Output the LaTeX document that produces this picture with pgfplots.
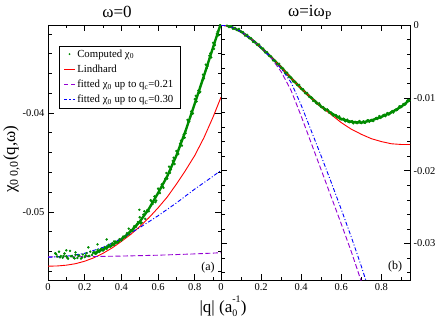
\documentclass[border=0pt]{standalone}
\usepackage{fontspec}
\setmainfont{Liberation Serif}
\usepackage{pgfplots}
\pgfplotsset{compat=1.18}
\definecolor{ggreen}{RGB}{0,139,0}
\definecolor{gviolet}{RGB}{148,0,211}
\pgfplotsset{
  myaxis/.style={
    scale only axis, anchor=south west, height=255pt,
    xmin=0, xmax=0.943,
    xtick={0,0.2,0.4,0.6,0.8}, minor xtick={0.1,0.3,0.5,0.7,0.9},
    tick align=inside,
    major tick length=6pt, minor tick length=3.5pt,
    every tick/.style={black, line width=0.6pt},
    axis line style={line width=0.8pt},
    tick label style={font=\fontsize{10.5}{12}\selectfont},
    /pgf/number format/assume math mode=true,
    scaled ticks=false,
    xticklabel style={/pgf/number format/fixed, /pgf/number format/precision=1},
    yticklabel style={/pgf/number format/fixed, /pgf/number format/precision=2},
  },
  greenpts/.style={only marks, mark=*, mark size=1pt, mark options={draw=ggreen, fill=ggreen}, color=ggreen,
    legend image code/.code={\pgfsetfillcolor{ggreen}\pgfpathcircle{\pgfpoint{0.18cm}{0cm}}{1pt}\pgfusepath{fill}}},
  greenband/.style={draw=ggreen, line width=2.4pt, no marks, forget plot},
  redl/.style={color=red, draw=red, line width=0.9pt, no marks,
    legend image code/.code={\pgfsetstrokecolor{red}\pgfsetlinewidth{1.1pt}\pgfsetdash{}{0pt}%
      \pgfpathmoveto{\pgfpointorigin}\pgfpathlineto{\pgfpoint{0.36cm}{0cm}}\pgfusepath{stroke}}},
  violetl/.style={color=gviolet, draw=gviolet, line width=0.9pt, no marks, dash pattern=on 5pt off 2.5pt,
    legend image code/.code={\pgfsetstrokecolor{gviolet}\pgfsetlinewidth{1.1pt}\pgfsetdash{{4pt}{2.5pt}}{0pt}%
      \pgfpathmoveto{\pgfpointorigin}\pgfpathlineto{\pgfpoint{0.36cm}{0cm}}\pgfusepath{stroke}}},
  bluel/.style={color=blue, draw=blue, line width=0.9pt, no marks, dash pattern=on 4pt off 2pt on 1pt off 2pt,
    legend image code/.code={\pgfsetstrokecolor{blue}\pgfsetlinewidth{1.1pt}\pgfsetdash{{3pt}{2pt}{1.2pt}{2pt}}{0pt}%
      \pgfpathmoveto{\pgfpointorigin}\pgfpathlineto{\pgfpoint{0.36cm}{0cm}}\pgfusepath{stroke}}},
}
\begin{document}
\begin{tikzpicture}[x=1pt,y=1pt]
\path[use as bounding box] (0,0) rectangle (436,322);

% ---------------- left panel: omega = 0
\begin{axis}[myaxis, at={(48pt,42pt)}, width=173pt,
  ymin=-0.0569, ymax=-0.0311,
  ytick={-0.05,-0.04},
  minor ytick={-0.056,-0.054,-0.052,-0.048,-0.046,-0.044,-0.042,-0.038,-0.036,-0.034,-0.032},
  yticklabel pos=left,
  legend style={at={(0.062,0.918)}, anchor=north west, fill=white, draw=black,
    font=\fontsize{10.8}{12}\selectfont, inner xsep=5pt, inner ysep=1.5pt, row sep=2.2pt},
  legend cell align=left,
]
\addplot[greenband] coordinates {
(0.25,-0.05421) (0.30,-0.05380) (0.35,-0.05335) (0.40,-0.05280) (0.45,-0.05200)
(0.50,-0.05100) (0.55,-0.04970) (0.60,-0.04810) (0.65,-0.04640) (0.70,-0.04430)
(0.75,-0.04180) (0.80,-0.03905) (0.85,-0.03625) (0.90,-0.03335) (0.943,-0.03090)
};
\addplot[greenpts] coordinates {
(0.04,-0.05420) (0.05,-0.05452) (0.06,-0.05404) (0.07,-0.05447) (0.08,-0.05464)
(0.09,-0.05422) (0.10,-0.05449) (0.11,-0.05475) (0.12,-0.05396) (0.13,-0.05448)
(0.14,-0.05464) (0.15,-0.05435) (0.16,-0.05468) (0.17,-0.05441) (0.18,-0.05474)
(0.19,-0.05432) (0.20,-0.05458) (0.21,-0.05419) (0.22,-0.05448) (0.23,-0.05403)
(0.24,-0.05437) (0.25,-0.05406) (0.26,-0.05425) (0.27,-0.05385) (0.28,-0.05406)
(0.29,-0.05373) (0.30,-0.05392) (0.31,-0.05356) (0.32,-0.05374) (0.33,-0.05335)
(0.34,-0.05352) (0.35,-0.05320) (0.36,-0.05334) (0.37,-0.05300) (0.38,-0.05312)
(0.39,-0.05276) (0.40,-0.05290) (0.41,-0.05250) (0.42,-0.05258) (0.43,-0.05216)
(0.44,-0.05228) (0.45,-0.05186) (0.46,-0.05192) (0.47,-0.05146) (0.48,-0.05152)
(0.49,-0.05104) (0.50,-0.05055) (0.51,-0.05109) (0.52,-0.05028) (0.53,-0.05072)
(0.54,-0.04986) (0.55,-0.04995) (0.56,-0.04883) (0.57,-0.04921) (0.58,-0.04844)
(0.59,-0.04887) (0.60,-0.04765) (0.61,-0.04811) (0.62,-0.04722) (0.63,-0.04758)
(0.64,-0.04664) (0.65,-0.04665) (0.66,-0.04543) (0.67,-0.04571) (0.68,-0.04484)
(0.69,-0.04517) (0.70,-0.04385) (0.71,-0.04415) (0.72,-0.04310) (0.73,-0.04330)
(0.74,-0.04220) (0.75,-0.04205) (0.76,-0.04070) (0.77,-0.04085) (0.78,-0.03985)
(0.79,-0.04005) (0.80,-0.03860) (0.81,-0.03884) (0.82,-0.03773) (0.83,-0.03787)
(0.84,-0.03671) (0.85,-0.03650) (0.86,-0.03512) (0.87,-0.03524) (0.88,-0.03421)
(0.89,-0.03438) (0.90,-0.03290) (0.91,-0.03313) (0.92,-0.03201) (0.93,-0.03214)
(0.94,-0.03097)
(0.045,-0.05431) (0.065,-0.05461) (0.085,-0.05446) (0.105,-0.05465) (0.125,-0.05449)
(0.145,-0.05472) (0.165,-0.05447) (0.185,-0.05465) (0.205,-0.05441) (0.225,-0.05446)
(0.245,-0.05416) (0.265,-0.05417) (0.285,-0.05386) (0.305,-0.05384) (0.325,-0.05352)
(0.345,-0.05346) (0.365,-0.05314) (0.385,-0.05303) (0.405,-0.05267) (0.425,-0.05246)
(0.445,-0.05203) (0.465,-0.05176) (0.485,-0.05124) (0.505,-0.05117) (0.525,-0.04995)
(0.545,-0.04993) (0.565,-0.04897) (0.585,-0.04903) (0.605,-0.04778) (0.625,-0.04745)
(0.645,-0.04607) (0.665,-0.04607) (0.685,-0.04453) (0.705,-0.04415) (0.725,-0.04280)
(0.745,-0.04250) (0.765,-0.04083) (0.785,-0.04008) (0.805,-0.03827) (0.825,-0.03795)
(0.845,-0.03613) (0.865,-0.03548) (0.885,-0.03397) (0.905,-0.03352) (0.925,-0.03178)
(0.04,-0.05420) (0.10,-0.05390) (0.22,-0.05360) (0.32,-0.05280) (0.498,-0.04980)
(0.27,-0.05330) (0.36,-0.05300) (0.44,-0.05170) (0.15,-0.05410)
};
\addlegendentry{Computed χ\textsubscript{0}}
\addplot[redl] coordinates {
(0,-0.05550) (0.05,-0.05548) (0.10,-0.05540) (0.15,-0.05525) (0.20,-0.05500)
(0.25,-0.05465) (0.30,-0.05420) (0.35,-0.05365) (0.40,-0.05300) (0.45,-0.05230)
(0.50,-0.05150) (0.55,-0.05060) (0.60,-0.04960) (0.65,-0.04850) (0.70,-0.04720)
(0.75,-0.04580) (0.80,-0.04430) (0.85,-0.04250) (0.90,-0.04040) (0.943,-0.03840)
};
\addlegendentry{Lindhard}
\addplot[violetl] coordinates {
(0,-0.05456) (0.2,-0.05454) (0.4,-0.05448) (0.6,-0.05439) (0.8,-0.05426) (0.943,-0.05414)
};
\addlegendentry{fitted χ\textsubscript{0} up to q\textsubscript{c}=0.21}
\addplot[bluel] coordinates {
(0,-0.05460) (0.1,-0.05450) (0.2,-0.05420) (0.3,-0.05360) (0.4,-0.05270)
(0.5,-0.05160) (0.6,-0.05040) (0.7,-0.04910) (0.8,-0.04770) (0.9,-0.04640) (0.943,-0.04580)
};
\addlegendentry{fitted χ\textsubscript{0} up to q\textsubscript{c}=0.30}
\node[font=\fontsize{12}{14}\selectfont] at (rel axis cs:0.925,0.049) {(a)};
\end{axis}

% ---------------- right panel: omega = i omega_P
\begin{axis}[myaxis, at={(221pt,42pt)}, width=189pt,
  ymin=-0.035, ymax=0,
  ytick={-0.03,-0.02,-0.01,0},
  minor ytick={-0.034,-0.032,-0.028,-0.026,-0.024,-0.022,-0.018,-0.016,-0.014,-0.012,-0.008,-0.006,-0.004,-0.002},
  yticklabel pos=right,
]
\addplot[greenband] coordinates {
(0.03,-0.00009) (0.05,-0.00025) (0.10,-0.00090) (0.15,-0.00190) (0.20,-0.00310)
(0.25,-0.00440) (0.30,-0.00580) (0.35,-0.00730) (0.40,-0.00870) (0.45,-0.01000)
(0.50,-0.01120) (0.55,-0.01210) (0.60,-0.01290) (0.65,-0.01330) (0.70,-0.01340)
(0.75,-0.01310) (0.80,-0.01260) (0.85,-0.01200) (0.90,-0.01120) (0.943,-0.01025)
};
\addplot[greenpts] coordinates {
(0.03,-0.00009) (0.04,-0.00028) (0.05,-0.00017) (0.06,-0.00053) (0.07,-0.00041)
(0.08,-0.00069) (0.09,-0.00054) (0.10,-0.00096) (0.11,-0.00098) (0.12,-0.00145)
(0.13,-0.00135) (0.14,-0.00182) (0.15,-0.00182) (0.16,-0.00232) (0.17,-0.00233)
(0.18,-0.00272) (0.19,-0.00266) (0.20,-0.00316) (0.21,-0.00324) (0.22,-0.00377)
(0.23,-0.00373) (0.24,-0.00426) (0.25,-0.00432) (0.26,-0.00486) (0.27,-0.00491)
(0.28,-0.00534) (0.29,-0.00532) (0.30,-0.00586) (0.31,-0.00598) (0.32,-0.00655)
(0.33,-0.00655) (0.34,-0.00712) (0.35,-0.00722) (0.36,-0.00776) (0.37,-0.00781)
(0.38,-0.00824) (0.39,-0.00822) (0.40,-0.00876) (0.41,-0.00884) (0.42,-0.00937)
(0.43,-0.00933) (0.44,-0.00986) (0.45,-0.00992) (0.46,-0.01042) (0.47,-0.01043)
(0.48,-0.01082) (0.49,-0.01076) (0.50,-0.01126) (0.51,-0.01126) (0.52,-0.01171)
(0.53,-0.01159) (0.54,-0.01204) (0.55,-0.01202) (0.56,-0.01244) (0.57,-0.01237)
(0.58,-0.01268) (0.59,-0.01254) (0.60,-0.01296) (0.61,-0.01286) (0.62,-0.01321)
(0.63,-0.01299) (0.64,-0.01334) (0.65,-0.01322) (0.66,-0.01350) (0.67,-0.01329)
(0.68,-0.01346) (0.69,-0.01318) (0.70,-0.01346) (0.71,-0.01322) (0.72,-0.01343)
(0.73,-0.01307) (0.74,-0.01328) (0.75,-0.01302) (0.76,-0.01318) (0.77,-0.01285)
(0.78,-0.01290) (0.79,-0.01250) (0.80,-0.01266) (0.81,-0.01236) (0.82,-0.01251)
(0.83,-0.01209) (0.84,-0.01224) (0.85,-0.01192) (0.86,-0.01202) (0.87,-0.01163)
(0.88,-0.01162) (0.89,-0.01116) (0.90,-0.01126) (0.91,-0.01085) (0.92,-0.01089)
(0.93,-0.01036) (0.94,-0.01040)
(0.455,-0.01002) (0.475,-0.01070) (0.495,-0.01098) (0.515,-0.01157) (0.535,-0.01173)
(0.555,-0.01228) (0.575,-0.01240) (0.595,-0.01292) (0.615,-0.01292) (0.635,-0.01328)
(0.655,-0.01321) (0.675,-0.01345) (0.695,-0.01329) (0.715,-0.01341) (0.735,-0.01309)
(0.755,-0.01315) (0.775,-0.01275) (0.795,-0.01275) (0.815,-0.01232) (0.835,-0.01228)
(0.855,-0.01182) (0.875,-0.01170) (0.895,-0.01118) (0.915,-0.01096) (0.935,-0.01030)
};
\addplot[redl] coordinates {
(0,0) (0.05,-0.00025) (0.10,-0.00090) (0.15,-0.00190) (0.20,-0.00310)
(0.25,-0.00440) (0.30,-0.00580) (0.35,-0.00730) (0.40,-0.00870) (0.45,-0.01000)
(0.50,-0.01120) (0.55,-0.01230) (0.60,-0.01340) (0.65,-0.01430) (0.70,-0.01500)
(0.75,-0.01560) (0.80,-0.01600) (0.85,-0.01630) (0.90,-0.01640) (0.943,-0.01640)
};
\addplot[violetl] coordinates {
(0,0) (0.05,-0.00024) (0.10,-0.00090) (0.15,-0.00190) (0.20,-0.00310)
(0.25,-0.00450) (0.30,-0.00640) (0.35,-0.00900) (0.40,-0.01250) (0.45,-0.01620)
(0.50,-0.01990) (0.55,-0.02360) (0.60,-0.02730) (0.65,-0.03110) (0.70,-0.03520) (0.75,-0.03950)
};
\addplot[bluel] coordinates {
(0,0) (0.05,-0.00024) (0.10,-0.00090) (0.15,-0.00190) (0.20,-0.00310)
(0.25,-0.00445) (0.30,-0.00595) (0.35,-0.00790) (0.40,-0.01100) (0.45,-0.01450)
(0.50,-0.01800) (0.55,-0.02160) (0.60,-0.02530) (0.65,-0.02910) (0.70,-0.03310) (0.75,-0.03740)
};
\node[font=\fontsize{12}{14}\selectfont] at (rel axis cs:0.921,0.052) {(b)};
\end{axis}

% titles and labels
\node[font=\fontsize{17}{20}\selectfont, anchor=base] at (117,304) {ω=0};
\node[font=\fontsize{17}{20}\selectfont, anchor=base] at (310,305) {ω=iω\textsubscript{P}};
\node[font=\fontsize{17}{20}\selectfont, anchor=base] at (223,10) {|q| (a\rlap{\raisebox{0.55em}{\fontsize{10}{10}\selectfont -1}}\raisebox{-0.25em}{\fontsize{10}{10}\selectfont 0}\kern3.5pt)};
\node[font=\fontsize{17}{20}\selectfont, rotate=90] at (11.5,163) {χ\textsubscript{0 0,0}(q,ω)};
\end{tikzpicture}
\end{document}
